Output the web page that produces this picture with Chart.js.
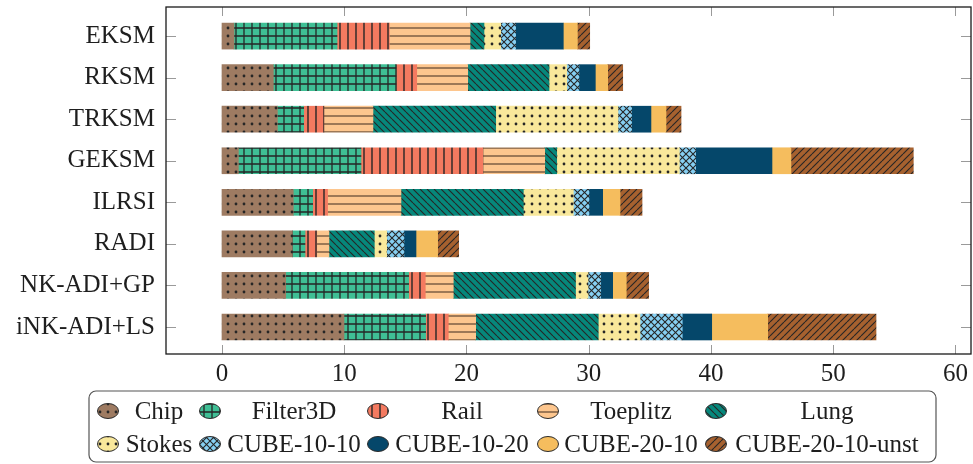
<!DOCTYPE html>
<html>
<head>
<meta charset="utf-8">
<script src="https://cdn.jsdelivr.net/npm/chart.js@4.4.1/dist/chart.umd.min.js"></script>
<style>
  html, body { margin: 0; padding: 0; background: #ffffff; }
  #wrap { width: 973px; height: 464px; }
</style>
</head>
<body>
<div id="wrap"><canvas id="chart" width="973" height="464"></canvas></div>
<script>
// Solvers (one horizontal stacked bar each), top to bottom
const methods = ['EKSM', 'RKSM', 'TRKSM', 'GEKSM', 'ILRSI', 'RADI', 'NK-ADI+GP', 'iNK-ADI+LS'];

// Test problems stacked inside each bar
const problems = ['Chip', 'Filter3D', 'Rail', 'Toeplitz', 'Lung',
                  'Stokes', 'CUBE-10-10', 'CUBE-10-20', 'CUBE-20-10', 'CUBE-20-10-unst'];

// Per-problem contribution for each solver (same order as methods)
const chip        = [0.98, 4.20, 4.53, 1.34, 5.83, 5.75, 5.21, 9.98];
const filter3d    = [8.43, 10.03, 2.15, 10.03, 1.59, 1.04, 10.06, 6.68];
const rail        = [4.28, 1.70, 1.66, 9.98, 1.22, 0.96, 1.36, 1.85];
const toeplitz    = [6.60, 4.17, 4.01, 5.05, 6.00, 1.00, 2.29, 2.24];
const lung        = [1.14, 6.65, 10.04, 0.98, 10.01, 3.71, 10.00, 10.03];
const stokes      = [1.37, 1.45, 10.00, 10.03, 4.09, 1.01, 1.02, 3.41];
const cube1010    = [1.22, 1.00, 1.12, 1.34, 1.28, 1.42, 1.04, 3.46];
const cube1020    = [3.90, 1.34, 1.58, 6.24, 1.12, 0.98, 0.98, 2.41];
const cube2010    = [1.15, 1.01, 1.23, 1.55, 1.42, 1.77, 1.11, 4.58];
const cube2010u   = [1.01, 1.23, 1.23, 10.01, 1.80, 1.72, 1.83, 8.86];

const xTicks = [0, 10, 20, 30, 40, 50, 60];

const seriesValues = [chip, filter3d, rail, toeplitz, lung, stokes, cube1010, cube1020, cube2010, cube2010u];

// ---- fill patterns -------------------------------------------------------
function tile(size, bg, paint) {
  const c = document.createElement('canvas');
  c.width = size; c.height = size;
  const g = c.getContext('2d');
  g.fillStyle = bg; g.fillRect(0, 0, size, size);
  if (paint) paint(g, size);
  return document.createElement('canvas').getContext('2d').createPattern(c, 'repeat');
}
const INK = '#262626';
const dots = (g, s) => { g.fillStyle = INK; g.beginPath(); g.arc(s / 2, s / 2, 1.4, 0, Math.PI * 2); g.fill(); };
const grid = (g, s) => { g.strokeStyle = INK; g.lineWidth = 1.3;
  g.beginPath(); g.moveTo(s / 2, 0); g.lineTo(s / 2, s); g.moveTo(0, s / 2); g.lineTo(s, s / 2); g.stroke(); };
const vlines = (g, s) => { g.strokeStyle = INK; g.lineWidth = 1.4;
  g.beginPath(); g.moveTo(s / 2, 0); g.lineTo(s / 2, s); g.stroke(); };
const hlines = (g, s) => { g.strokeStyle = 'rgba(70,50,35,0.75)'; g.lineWidth = 1.4;
  g.beginPath(); g.moveTo(0, s / 2); g.lineTo(s, s / 2); g.stroke(); };
const nwlines = (g, s) => { g.strokeStyle = INK; g.lineWidth = 1.1; g.beginPath();
  for (let k = -1; k <= 1; k++) { g.moveTo(k * s, 0); g.lineTo(k * s + s, s); } g.stroke(); };
const nelines = (g, s) => { g.strokeStyle = INK; g.lineWidth = 1.1; g.beginPath();
  for (let k = -1; k <= 1; k++) { g.moveTo(k * s, s); g.lineTo(k * s + s, 0); } g.stroke(); };
const cross = (g, s) => { nwlines(g, s); nelines(g, s); };

const fills = [
  tile(8, '#9e7b62', dots),
  tile(8, '#3fbf95', grid),
  tile(8, '#f47a60', vlines),
  tile(8, '#fdc68e', hlines),
  tile(7, '#06877b', nwlines),
  tile(8, '#f9e89b', dots),
  tile(7, '#86cff2', cross),
  '#05476a',
  '#f5bd5e',
  tile(7, '#a6612f', nelines)
];

const datasets = problems.map((name, k) => ({
  label: name,
  data: seriesValues[k].map((v, i) => ({ x: v, y: i })),
  backgroundColor: fills[k],
  borderWidth: 0,
  barThickness: 26
}));

const FONT = '"Liberation Serif", "Times New Roman", serif';
const TEXT = '#1e1e1e';

// Frame, inward tick marks and the two-row legend
const decor = {
  id: 'decor',
  afterDraw(chart) {
    const { ctx, chartArea: a, scales } = chart;
    const xs = scales.x, ys = scales.y;
    ctx.save();
    // tick marks pointing into the plot
    ctx.strokeStyle = '#9a9a9a'; ctx.lineWidth = 1;
    ctx.beginPath();
    xTicks.forEach(v => {
      const px = Math.round(xs.getPixelForValue(v)) + 0.5;
      ctx.moveTo(px, a.bottom); ctx.lineTo(px, a.bottom - 9);
      ctx.moveTo(px, a.top); ctx.lineTo(px, a.top + 9);
    });
    methods.forEach((m, i) => {
      const py = Math.round(ys.getPixelForValue(i)) + 0.5;
      ctx.moveTo(a.left, py); ctx.lineTo(a.left + 10, py);
      ctx.moveTo(a.right, py); ctx.lineTo(a.right - 10, py);
    });
    ctx.stroke();
    // axis box
    ctx.strokeStyle = '#1a1a1a'; ctx.lineWidth = 1.3;
    ctx.strokeRect(a.left, a.top, a.right - a.left, a.bottom - a.top);

    // legend box
    const L = 89, T = 391, R = 936, B = 462, r = 7;
    ctx.strokeStyle = '#555'; ctx.lineWidth = 1.2;
    ctx.beginPath();
    ctx.moveTo(L + r, T); ctx.lineTo(R - r, T); ctx.arcTo(R, T, R, T + r, r);
    ctx.lineTo(R, B - r); ctx.arcTo(R, B, R - r, B, r);
    ctx.lineTo(L + r, B); ctx.arcTo(L, B, L, B - r, r);
    ctx.lineTo(L, T + r); ctx.arcTo(L, T, L + r, T, r);
    ctx.closePath(); ctx.stroke();

    const markerX = [108, 210, 378, 548, 716];
    const textX = [159, 294, 462, 631, 827];
    const rowY = [411, 444];
    ctx.font = '25px ' + FONT;
    ctx.textAlign = 'center'; ctx.textBaseline = 'middle';
    problems.forEach((name, k) => {
      const col = k % 5, row = Math.floor(k / 5);
      const mx = markerX[col], my = rowY[row];
      ctx.beginPath();
      ctx.ellipse(mx, my, 10.5, 7.5, 0, 0, Math.PI * 2);
      ctx.fillStyle = fills[k]; ctx.fill();
      ctx.strokeStyle = '#2a2a2a'; ctx.lineWidth = 1; ctx.stroke();
      ctx.fillStyle = TEXT;
      ctx.fillText(name, textX[col], my + 1);
    });
    ctx.restore();
  }
};

new Chart(document.getElementById('chart'), {
  type: 'bar',
  data: { datasets },
  options: {
    indexAxis: 'y',
    responsive: false,
    animation: false,
    devicePixelRatio: 1,
    layout: { padding: { top: 7, right: 2, left: 0, bottom: 0 } },
    plugins: { legend: { display: false }, tooltip: { enabled: false } },
    scales: {
      x: {
        type: 'linear', stacked: true, min: -4.58, max: 61.27, offset: false,
        afterBuildTicks: s => { s.ticks = xTicks.map(v => ({ value: v })); },
        afterFit: s => { s.height = 110; s.paddingLeft = 0; s.paddingRight = 0; },
        grid: { display: false, drawTicks: false, tickLength: 0 }, border: { display: false },
        ticks: { color: TEXT, font: { family: FONT, size: 25 }, padding: 5,
                 callback: v => String(v) }
      },
      y: {
        type: 'linear', stacked: true, reverse: true, min: -0.7, max: 7.65, offset: false,
        afterBuildTicks: s => { s.ticks = methods.map((m, i) => ({ value: i })); },
        afterFit: s => { s.width = 166; s.paddingTop = 0; s.paddingBottom = 0; },
        grid: { display: false, drawTicks: false, tickLength: 0, offset: false }, border: { display: false },
        ticks: { color: TEXT, font: { family: FONT, size: 25 }, padding: 11,
                 callback: v => methods[v] }
      }
    }
  },
  plugins: [decor]
});
</script>
</body>
</html>
